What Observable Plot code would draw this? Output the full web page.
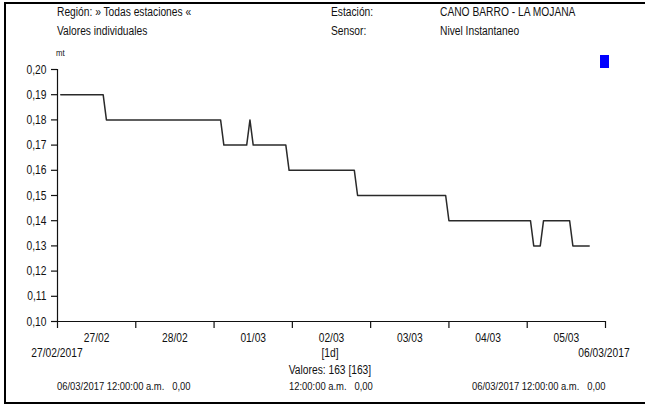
<!DOCTYPE html>
<html>
<head>
<meta charset="utf-8">
<script src="https://cdn.jsdelivr.net/npm/d3@7"></script>
<script src="https://cdn.jsdelivr.net/npm/@observablehq/plot@0.6"></script>
<style>
  html, body { margin: 0; padding: 0; background: #fff; }
  #chart { width: 645px; height: 405px; overflow: hidden; }
</style>
</head>
<body>
<div id="chart"></div>
<script>
// ---- data ----
// vertices of the level series (hours after 27/02/2017 00:00)
const hours = [1, 14, 15, 50, 51, 58, 59, 60, 70, 71, 91, 92, 119, 120, 145, 146, 148, 149, 157, 158, 163];
const values = [0.19, 0.19, 0.18, 0.18, 0.17, 0.17, 0.18, 0.17, 0.17, 0.16, 0.16, 0.15, 0.15, 0.14, 0.14, 0.13, 0.13, 0.14, 0.14, 0.13, 0.13];
const yTicks = [0.10, 0.11, 0.12, 0.13, 0.14, 0.15, 0.16, 0.17, 0.18, 0.19, 0.20];
const startDate = "2017-02-27T00:00";
const endDate = "2017-03-06T00:00";

const headerLeft = ["Región: » Todas estaciones «", "Valores individuales"];
const headerMid = ["Estación:", "Sensor:"];
const headerRight = ["CANO BARRO - LA MOJANA", "Nivel Instantaneo"];
const unitLabel = "mt";
const rangeStartLabel = "27/02/2017";
const rangeEndLabel = "06/03/2017";
const intervalLabel = "[1d]";
const countLabel = "Valores: 163 [163]";
const footer = ["06/03/2017 12:00:00 a.m.   0,00", "12:00:00 a.m.   0,00", "06/03/2017 12:00:00 a.m.   0,00"];

// ---- build ----
const parse = d3.timeParse("%Y-%m-%dT%H:%M");
const t0 = parse(startDate), t1 = parse(endDate);
const data = hours.map((h, i) => ({t: d3.timeHour.offset(t0, h), v: values[i]}));
const dayTicks = d3.timeDay.range(t0, d3.timeDay.offset(t1, 1));
const noonTicks = d3.timeDay.range(t0, t1).map(d => d3.timeHour.offset(d, 12));
const fmtY = d => d3.format(".2f")(d).replace(".", ",");
const FONT = "'Liberation Sans', Arial, sans-serif";
const NARROW = 0.82;

const svg = Plot.plot({
  width: 645,
  height: 405,
  marginLeft: 57,
  marginRight: 40,
  marginTop: 69,
  marginBottom: 84,
  style: {fontFamily: FONT, fontSize: "12.5px", color: "#111", background: "#fff"},
  x: {type: "time", domain: [t0, t1], label: null},
  y: {domain: [0.10, 0.20], label: null},
  marks: [
    Plot.axisY({ticks: yTicks, tickSize: 6, tickPadding: 5, tickFormat: fmtY, fontSize: 12.5, stroke: "#111", strokeWidth: 1.2, label: null}),
    Plot.axisX({ticks: dayTicks, tickSize: 7, tickFormat: () => "", stroke: "#111", strokeWidth: 1.2, label: null}),
    Plot.axisX({ticks: noonTicks, tickSize: 0, tickPadding: 12, tickFormat: d3.timeFormat("%d/%m"), fontSize: 12.5, label: null}),
    Plot.ruleX([t0], {y1: 0.10, y2: 0.20, stroke: "#111", strokeWidth: 1.2}),
    Plot.ruleY([0.10], {stroke: "#111", strokeWidth: 1.2}),
    Plot.line(data, {x: "t", y: "v", stroke: "#2a2a2a", strokeWidth: 1.5})
  ]
});

const s = d3.select(svg);
function txt(x, y, str, size = 12.5, anchor = "start") {
  s.append("text").attr("x", x).attr("y", y).attr("font-size", size)
    .attr("text-anchor", anchor).attr("fill", "#111").attr("font-family", FONT)
    .attr("xml:space", "preserve").style("white-space", "pre").text(str);
}
// frame
s.append("path").attr("d", "M645,3H5V403H645").attr("fill", "none").attr("stroke", "#000").attr("stroke-width", 2);
// header
txt(57, 16, headerLeft[0]); txt(57, 35, headerLeft[1]);
txt(331, 16, headerMid[0]); txt(331, 35, headerMid[1]);
txt(440, 16, headerRight[0]); txt(440, 35, headerRight[1]);
txt(56, 56, unitLabel, 9.5);
// legend swatch
s.append("rect").attr("x", 600).attr("y", 55).attr("width", 9).attr("height", 13).attr("fill", "#0000ff");
// bottom texts
txt(57, 357, rangeStartLabel, 12.5, "middle");
txt(604, 357, rangeEndLabel, 12.5, "middle");
txt(330, 357, intervalLabel, 12.5, "middle");
txt(330, 374, countLabel, 12.5, "middle");
txt(57, 390, footer[0], 11.5);
txt(289, 390, footer[1], 11.5);
txt(472, 390, footer[2], 11.5);

// condense all texts horizontally (reference uses a narrow face)
s.selectAll("text").each(function() {
  const el = this;
  const xs = el.getAttribute("x");
  const x = xs && !isNaN(+xs) ? +xs : 0;
  const tr = el.getAttribute("transform") || "";
  el.setAttribute("transform", `${tr} translate(${x},0) scale(${NARROW},1) translate(${-x},0)`.trim());
});

document.getElementById("chart").appendChild(svg);
</script>
</body>
</html>
